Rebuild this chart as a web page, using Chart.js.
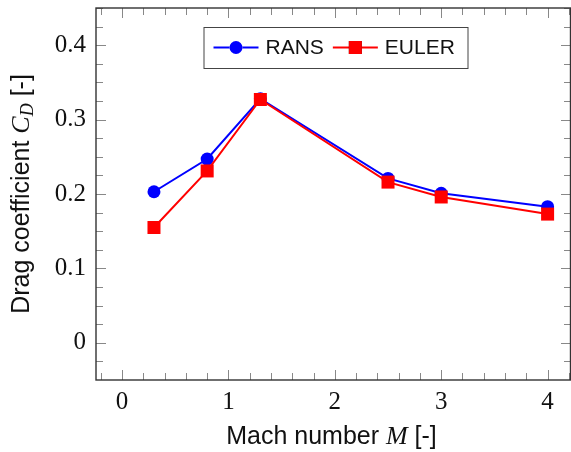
<!DOCTYPE html>
<html lang="en">
<head>
    <meta charset="UTF-8">
    <title>Drag coefficient vs Mach number</title>
    <script src="https://cdn.jsdelivr.net/npm/chart.js"></script>
    <style>
        html, body { margin: 0; padding: 0; background: #fff; }
        canvas { display: block; }
    </style>
</head>
<body>
    <canvas id="dragChart" width="571" height="452"></canvas>

    <script>
        // Data
        const machNumbers = [0.3, 0.8, 1.3, 2.5, 3, 4];
        const ransCd = [0.203, 0.247, 0.328, 0.221, 0.201, 0.183];
        const eulerCd = [0.155, 0.231, 0.327, 0.216, 0.196, 0.173];
        const xTicks = [0, 1, 2, 3, 4];
        const yTicks = [0, 0.1, 0.2, 0.3, 0.4];

        const serif = "'Liberation Serif', 'DejaVu Serif', serif";
        const sans = "'Liberation Sans', Arial, sans-serif";

        // draw a label made of several pieces with different fonts
        function drawParts(ctx, parts, cx, cy) {
            let total = 0;
            parts.forEach(p => { ctx.font = p.font; p.w = ctx.measureText(p.text).width; total += p.w; });
            let x = cx - total / 2;
            parts.forEach(p => {
                ctx.font = p.font;
                ctx.fillText(p.text, x, cy + (p.dy || 0));
                x += p.w;
            });
        }

        // pgfplots-like frame: box, inward ticks on all four sides, axis titles, legend
        const framePlugin = {
            id: 'frame',
            afterDraw(chart) {
                const ctx = chart.ctx;
                const a = chart.chartArea;
                const xs = chart.scales.x, ys = chart.scales.y;
                ctx.save();

                ctx.strokeStyle = '#888';
                ctx.lineWidth = 1;
                ctx.beginPath();
                // x ticks (minor every 0.2)
                for (let i = -1; i <= 21; i++) {
                    const v = i * 0.2;
                    const px = Math.round(xs.getPixelForValue(v)) + 0.5;
                    if (px < a.left || px > a.right) continue;
                    const len = (i % 5 === 0) ? 10 : 7;
                    ctx.moveTo(px, a.bottom); ctx.lineTo(px, a.bottom - len);
                    ctx.moveTo(px, a.top); ctx.lineTo(px, a.top + len);
                }
                // y ticks (minor every 0.025)
                for (let i = -2; i <= 18; i++) {
                    const v = i * 0.025;
                    const py = Math.round(ys.getPixelForValue(v)) + 0.5;
                    if (py < a.top || py > a.bottom) continue;
                    const len = (i % 4 === 0) ? 10 : 7;
                    ctx.moveTo(a.left, py); ctx.lineTo(a.left + len, py);
                    ctx.moveTo(a.right, py); ctx.lineTo(a.right - len, py);
                }
                ctx.stroke();

                ctx.strokeStyle = '#333';
                ctx.lineWidth = 1.4;
                ctx.strokeRect(a.left, a.top, a.right - a.left - 0.5, a.bottom - a.top);

                // axis titles
                ctx.fillStyle = '#111';
                ctx.textBaseline = 'middle';
                ctx.textAlign = 'left';
                drawParts(ctx, [
                    { text: 'Mach number ', font: '25px ' + sans },
                    { text: 'M', font: 'italic 26px ' + serif },
                    { text: ' [-]', font: '25px ' + sans }
                ], (a.left + a.right) / 2 - 2, 437);

                ctx.save();
                ctx.translate(22, (a.top + a.bottom) / 2);
                ctx.rotate(-Math.PI / 2);
                drawParts(ctx, [
                    { text: 'Drag coefficient ', font: '25px ' + sans },
                    { text: 'C', font: 'italic 26px ' + serif },
                    { text: 'D', font: 'italic 18px ' + serif, dy: 6 },
                    { text: ' [-]', font: '25px ' + sans }
                ], 0, 0);
                ctx.restore();

                // legend
                const cx = (a.left + a.right) / 2 + 2;
                const bx = cx - 132, by = 27, bw = 264, bh = 41;
                ctx.fillStyle = '#fff';
                ctx.fillRect(bx, by, bw, bh);
                ctx.strokeStyle = '#444';
                ctx.lineWidth = 1;
                ctx.strokeRect(bx + 0.5, by + 0.5, bw, bh);
                const my = by + bh / 2;
                let x = bx + 10;
                chart.data.datasets.slice().reverse().forEach(ds => {
                    ctx.strokeStyle = ds.borderColor;
                    ctx.lineWidth = ds.borderWidth;
                    ctx.beginPath();
                    ctx.moveTo(x, my); ctx.lineTo(x + 45, my);
                    ctx.stroke();
                    Chart.helpers.drawPoint(ctx, {
                        pointStyle: ds.pointStyle, radius: ds.pointRadius, borderWidth: 0
                    }, x + 22.5, my);
                    ctx.fillStyle = ds.backgroundColor;
                    ctx.fill();
                    ctx.fillStyle = '#111';
                    ctx.font = '21px ' + sans;
                    ctx.textAlign = 'left';
                    ctx.fillText(ds.label, x + 52, my + 1);
                    x += 52 + ctx.measureText(ds.label).width + 9;
                });

                ctx.restore();
            }
        };

        function noPadding(s) {
            s.paddingTop = 0; s.paddingBottom = 0;
            s.paddingLeft = 0; s.paddingRight = 0;
        }

        const ctx = document.getElementById('dragChart').getContext('2d');

        new Chart(ctx, {
            type: 'line',
            data: {
                datasets: [
                    {
                        label: 'EULER',
                        data: machNumbers.map((m, i) => ({ x: m, y: eulerCd[i] })),
                        borderColor: '#ff0000',
                        backgroundColor: '#ff0000',
                        borderWidth: 2,
                        pointStyle: 'rect',
                        pointRadius: 9.2,
                        pointBorderWidth: 0,
                        tension: 0,
                        order: 0
                    },
                    {
                        label: 'RANS',
                        data: machNumbers.map((m, i) => ({ x: m, y: ransCd[i] })),
                        borderColor: '#0000ff',
                        backgroundColor: '#0000ff',
                        borderWidth: 2,
                        pointStyle: 'circle',
                        pointRadius: 6.5,
                        pointBorderWidth: 0,
                        tension: 0,
                        order: 1
                    }
                ]
            },
            options: {
                responsive: false,
                animation: false,
                layout: { autoPadding: false, padding: { top: 8, right: 0, left: 0, bottom: 0 } },
                plugins: {
                    legend: { display: false },
                    tooltip: { enabled: false }
                },
                scales: {
                    x: {
                        type: 'linear',
                        min: -0.245,
                        max: 4.22,
                        afterFit: s => { s.height = 72; noPadding(s); },
                        afterBuildTicks: s => { s.ticks = xTicks.map(v => ({ value: v })); },
                        grid: { display: false, drawTicks: false },
                        border: { display: false },
                        ticks: {
                            padding: 7,
                            color: '#111',
                            font: { family: serif, size: 25 },
                            callback: v => String(v)
                        }
                    },
                    y: {
                        type: 'linear',
                        min: -0.05,
                        max: 0.45,
                        afterFit: s => { s.width = 96; noPadding(s); },
                        afterBuildTicks: s => { s.ticks = yTicks.map(v => ({ value: v })); },
                        grid: { display: false, drawTicks: false },
                        border: { display: false },
                        ticks: {
                            padding: 10,
                            color: '#111',
                            font: { family: serif, size: 25 },
                            callback: v => v === 0 ? '0' : v.toFixed(1)
                        }
                    }
                }
            },
            plugins: [framePlugin]
        });
    </script>
</body>
</html>
